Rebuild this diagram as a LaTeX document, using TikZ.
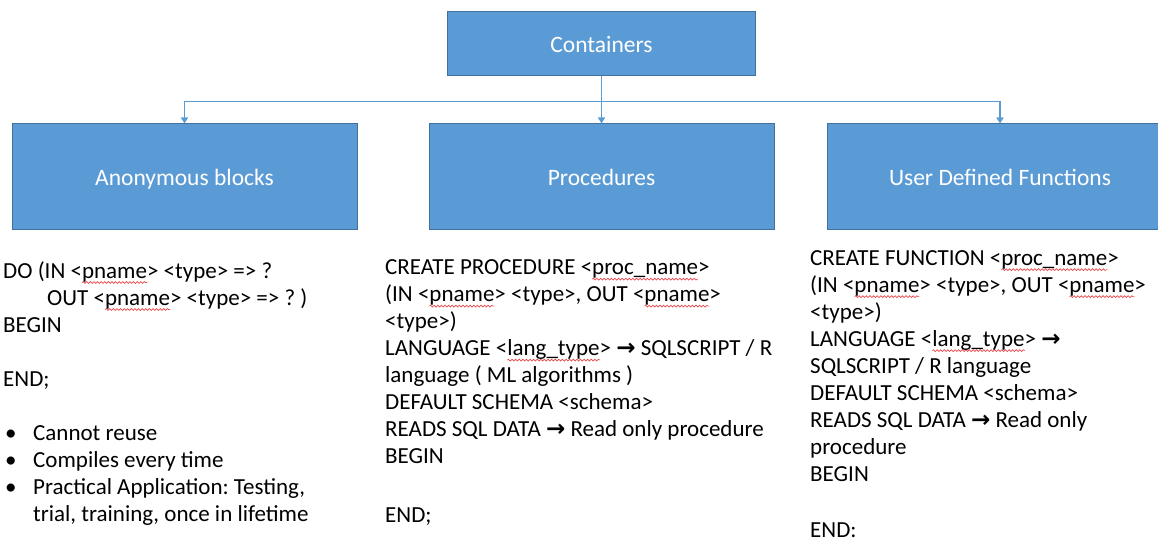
\documentclass[tikz,border=0pt]{standalone}
\usepackage{fontspec}
\setmainfont{Carlito}
\newfontfamily\arrowfont{DejaVu Sans}
\usetikzlibrary{arrows.meta,decorations.pathmorphing}

\definecolor{boxfill}{HTML}{5B9BD5}
\definecolor{boxline}{HTML}{41719C}
\definecolor{linkblue}{HTML}{5B9BD5}
\definecolor{spellred}{HTML}{E8474A}

% red wavy underline for flagged identifiers
\newlength\spellwd
\newcommand\spell[1]{\settowidth\spellwd{#1}%
  \rlap{\tikz[baseline=0pt]{\useasboundingbox (0pt,0pt) -- (\spellwd,0pt);
    \draw[overlay, spellred, line width=0.7pt, decorate,
      decoration={snake, amplitude=0.9pt, segment length=3.6pt}]
      (0pt,-4.5pt) -- (\spellwd,-4.5pt);}}#1}
% bold right arrow
\newcommand\rarr{{\arrowfont\bfseries →}}
% bullet list line
\newcommand\bulletline[1]{\makebox[30pt][l]{\hspace*{2pt}•}#1}

\begin{document}
\begin{tikzpicture}[x=1pt,y=-1pt,
  box/.style={draw=boxline, fill=boxfill, line width=1pt,
    minimum width=345pt, minimum height=105pt, inner sep=0pt,
    text height=21.5pt, text depth=3.5pt,
    text=white, font=\fontsize{23.5}{28}\selectfont},
  link/.style={draw=linkblue, line width=1.7pt,
    -{Triangle[width=7pt,length=6pt]}},
  code/.style={anchor=north west, align=left, inner sep=0pt,
    text=black, font=\fontsize{23}{27}\selectfont\frenchspacing}]
\useasboundingbox (0,0) rectangle (1158,540);
\clip (0,0) rectangle (1158,540);

% hierarchy boxes
\node[box, minimum width=308pt, minimum height=64pt] (cont) at (601.5,44) {Containers};
\node[box] (anon) at (184.5,176.5) {Anonymous blocks};
\node[box] (proc) at (601.5,176.5) {Procedures};
\node[box] (udf) at (1000,176.5) {User Defined Functions};

% connectors
\draw[link] (cont.south) -- (proc.north);
\draw[link] (cont.south) -- ++(0,25) -| (anon.north);
\draw[link] (cont.south) -- ++(0,25) -| (udf.north);

% anonymous block syntax
\node[code] (anoncode) at (3,261) {DO (IN <\spell{pname}> <type> => ?\\
\hspace*{44pt}OUT <\spell{pname}> <type> => ? )\\
BEGIN\\[27pt]
END;\\[27pt]
\bulletline{Cannot reuse}\\
\bulletline{Compiles every time}\\
\bulletline{Practical Application: Testing,}\\
\hspace*{30pt}trial, training, once in lifetime};

% procedure syntax
\node[code] (proccode) at (385,259.5) {CREATE PROCEDURE <\spell{proc\_name}>\\
(IN <\spell{pname}> <type>, OUT <\spell{pname}>\\
<type>)\\
LANGUAGE <\spell{lang\_type}> \rarr{} SQLSCRIPT / R\\
language ( ML algorithms )\\
DEFAULT SCHEMA <schema>\\
READS SQL DATA \rarr{} Read only procedure\\
BEGIN\\[32pt]
END;};

% function syntax
\node[code] (udfcode) at (810,250) {CREATE FUNCTION <\spell{proc\_name}>\\
(IN <\spell{pname}> <type>, OUT <\spell{pname}>\\
<type>)\\
LANGUAGE <\spell{lang\_type}> \rarr\\
SQLSCRIPT / R language\\
DEFAULT SCHEMA <schema>\\
READS SQL DATA \rarr{} Read only\\
procedure\\
BEGIN\\[29pt]
END:};
\end{tikzpicture}
\end{document}
